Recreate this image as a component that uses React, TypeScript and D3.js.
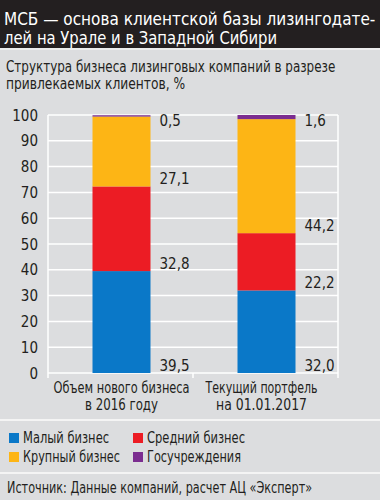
import React, { useLayoutEffect, useRef, useState } from "react";
import * as d3 from "d3";

const categories = ["Объем нового бизнеса|в 2016 году", "Текущий портфель|на 01.01.2017"];
const seriesNames = ["Малый бизнес", "Средний бизнес", "Крупный бизнес", "Госучреждения"];
const small = [39.5, 32.0];
const medium = [32.8, 22.2];
const large = [27.1, 44.2];
const gov = [0.5, 1.6];
const yTicks = [0, 10, 20, 30, 40, 50, 60, 70, 80, 90, 100];
const colors = ["#0a78c8", "#ec1c24", "#fdb515", "#7b2d90"];

const W = 380;
const H = 500;
const FONT = "'Liberation Sans Narrow', 'DejaVu Sans Condensed', 'Roboto Condensed', Roboto, sans-serif";
const TXT = "#231f20";
const BG = "#dcdddf";

function FitText(props: any) {
  const { x, y, len, children, ...rest } = props;
  const ref = useRef<SVGTextElement>(null);
  const [s, setS] = useState(0.85);
  useLayoutEffect(() => {
    const el = ref.current;
    if (!el) return;
    const w = el.getComputedTextLength();
    if (w > 0) setS(len / w);
  }, [len, children]);
  return (
    <text ref={ref} transform={`translate(${x},${y}) scale(${s},1)`} {...rest}>
      {children}
    </text>
  );
}

export default function App() {
  const seriesVals = [small, medium, large, gov];
  const rows = categories.map((c, i) => ({
    cat: c,
    s0: seriesVals[0][i],
    s1: seriesVals[1][i],
    s2: seriesVals[2][i],
    s3: seriesVals[3][i],
  }));
  const stack = d3.stack<any>().keys(["s0", "s1", "s2", "s3"]);
  const stacked = stack(rows);

  const x = d3.scaleBand<string>().domain(categories).range([48, 338]).paddingInner(0).paddingOuter(0);
  const y = d3.scaleLinear().domain([0, 100]).range([373, 115]);
  const barW = x.bandwidth() * 0.4;
  const barX = (c: string) => (x(c) as number) + x.bandwidth() / 2 - barW / 2 + 1;

  return (
    <svg width={W} height={H} style={{ position: "absolute", left: 0, top: 0, display: "block" }} fontFamily={FONT}>
      <rect x={0} y={0} width={W} height={H} fill={BG} />
      <rect x={0} y={0} width={W} height={48} fill="#231f20" />
      <line x1={0} x2={W} y1={49} y2={49} stroke="#f2f2f2" strokeWidth={1.5} />
      <FitText x={4} y={25} len={371} fontSize={18} fill="#ffffff">МСБ — основа клиентской базы лизингодате-</FitText>
      <FitText x={4} y={44} len={273} fontSize={18} fill="#ffffff">лей на Урале и в Западной Сибири</FitText>
      <FitText x={6} y={72} len={329} fontSize={16} fill={TXT}>Структура бизнеса лизинговых компаний в разрезе</FitText>
      <FitText x={6} y={89} len={179} fontSize={16} fill={TXT}>привлекаемых клиентов, %</FitText>

      {/* grid */}
      {yTicks.map((t) => (
        <g key={t}>
          <line x1={48} x2={338} y1={y(t)} y2={y(t)} stroke="#ffffff" strokeWidth={1.5} />
          <text x={38} y={y(t) + 5.5} textAnchor="end" fontSize={15} fill={TXT}>{t}</text>
        </g>
      ))}
      <line x1={48} x2={48} y1={y(100)} y2={y(0) + 5} stroke="#ffffff" strokeWidth={1.5} />
      <line x1={338} x2={338} y1={y(100)} y2={y(0) + 5} stroke="#ffffff" strokeWidth={1.5} />
      <line x1={x(categories[1]) as number} x2={x(categories[1]) as number} y1={y(0)} y2={y(0) + 5} stroke="#ffffff" strokeWidth={1.5} />

      {/* bars */}
      {stacked.map((layer, li) => (
        <g key={li}>
          {layer.map((d, ci) => (
            <rect
              key={ci}
              x={barX(categories[ci])}
              y={y(d[1])}
              width={barW}
              height={y(d[0]) - y(d[1])}
              fill={colors[li]}
            />
          ))}
        </g>
      ))}

      {/* value labels */}
      {stacked.map((layer, li) =>
        layer.map((d, ci) => {
          const v = seriesVals[li][ci];
          const ly = li === stacked.length - 1 ? y(100) + 11 : y(d[0]) - 2;
          return (
            <text key={`${li}-${ci}`} x={barX(categories[ci]) + barW + 9} y={ly} fontSize={15} fill={TXT}>
              {v.toFixed(1).replace(".", ",")}
            </text>
          );
        })
      )}

      {/* category labels */}
      {categories.map((c, i) => {
        const [l1, l2] = c.split("|");
        const cx = (x(c) as number) + x.bandwidth() / 2 + (i === 0 ? 1 : -4);
        const lens = i === 0 ? [136, 73] : [112, 91];
        return (
          <g key={c}>
            <FitText x={cx - lens[0] / 2} y={393} len={lens[0]} fontSize={15} fill={TXT}>{l1}</FitText>
            <FitText x={cx - lens[1] / 2} y={410} len={lens[1]} fontSize={15} fill={TXT}>{l2}</FitText>
          </g>
        );
      })}

      <line x1={0} x2={W} y1={420} y2={420} stroke="#f4f4f4" strokeWidth={2} />

      {/* legend */}
      {seriesNames.map((n, i) => {
        const col = i % 2;
        const row = Math.floor(i / 2);
        const lx = col === 0 ? 9 : 133;
        const ly = 433 + row * 19;
        const lens = [86, 98, 97, 94];
        return (
          <g key={n}>
            <rect x={lx} y={ly} width={10} height={10} fill={colors[i]} />
            <FitText x={lx + 14} y={ly + 10} len={lens[i]} fontSize={15} fill={TXT}>{n}</FitText>
          </g>
        );
      })}

      <line x1={0} x2={W} y1={473} y2={473} stroke="#f4f4f4" strokeWidth={2} />
      <FitText x={7} y={493} len={305} fontSize={15} fill={TXT}>Источник: Данные компаний, расчет АЦ «Эксперт»</FitText>
    </svg>
  );
}
